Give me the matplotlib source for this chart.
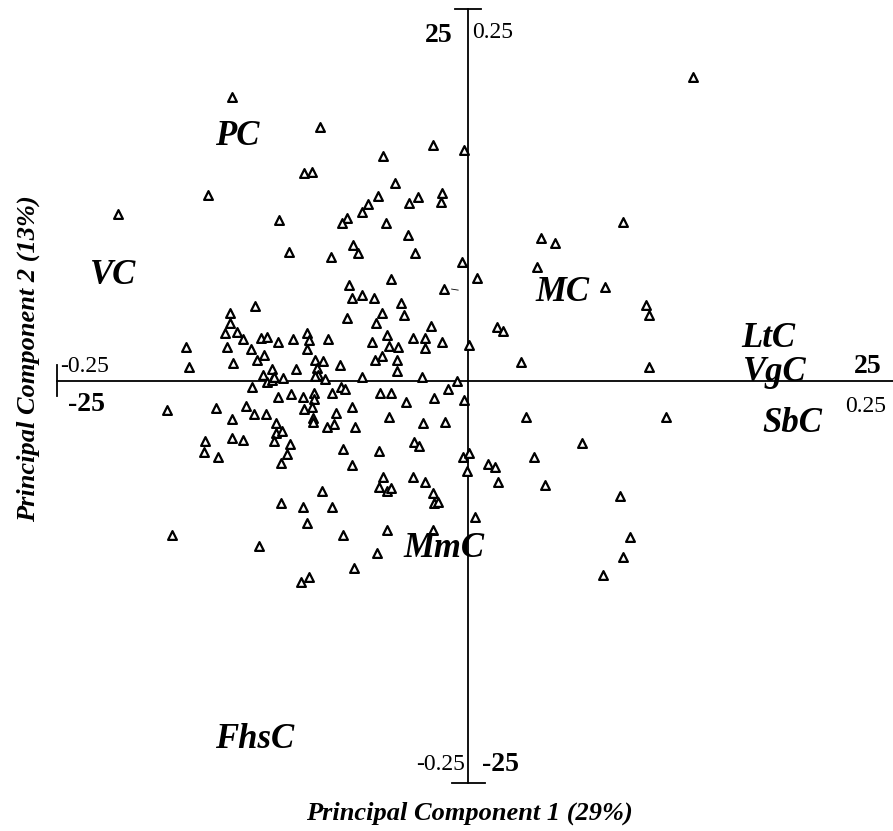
import numpy as np
from matplotlib import pyplot as plt

# PCA scores (PC1, PC2)
pc1 = [-14.36, -9.00, 13.69, -2.13, -0.24, -5.17, -9.98, -9.49, -4.44, -15.82,
       -1.58, -1.64, -5.47, -6.08, -6.45, -3.04, -3.59, -21.29, -11.50, -7.36,
       -7.66, -4.99, 9.43, -3.65, 4.44, 5.29, -7.00, -6.69, -10.89, -8.33,
       -3.22, -0.36, 4.20, 0.55, -4.68, 8.33, -7.24, -1.46, -7.06, -6.45,
       -5.72, 10.83, 11.01, -12.96, -4.08, -3.89, -14.48, -14.48, -5.23, -7.36,
       -5.60, -2.25, 1.76, 2.13, -14.78, -14.05, -13.69, -12.59, -12.23, -11.56,
       -10.64, -9.79, -9.67, -9.79, -8.52, -5.84, -4.93, -4.81, -4.26, -3.35,
       -2.62, -2.62, -1.58, 0.06, -17.15, -14.66, -13.20, -12.41, -12.83, -16.97,
       -14.29, -10.46, -9.31, -8.82, -9.18, -9.12, -9.31, -8.70, -11.92, -12.47,
       -12.23, -11.92, -11.80, -11.25, -7.79, -5.66, -5.23, -4.32, -4.32, -6.45,
       -2.80, -0.67, 3.22, 11.01,
       -13.14, -11.56, -10.77, -10.04, -9.37, -9.37, -9.49, -9.98, -9.43, -9.43,
       -18.31, -15.33, -13.50, -13.02, -12.29, -14.36, -11.68, -11.68, -11.31, -11.80,
       -14.36, -13.69, -16.00, -16.06, -10.83, -11.01, -15.21, -11.37, -7.73, -7.48,
       -8.27, -5.35, -4.68, -1.22, -3.77, -2.07, -0.24, -7.06, -8.03, -8.15,
       -8.58, -4.81, -6.87, -2.74, -1.40, -3.28, -2.98, -7.60, -5.41, -0.30,
       0.06, -0.06, -7.06, -5.17, -5.41, -4.93, -4.68, -3.35, -2.62, -2.13,
       -2.07, -1.82, -8.88, -11.37, -10.04, -8.27, -9.79, 0.43, -7.60, -4.93,
       -2.13, -18.00, -12.71, -5.54, -6.93, -10.16, -9.67,
       3.53, 12.04, 6.93, 1.22, 1.64, 1.82, 4.01, 4.68, 9.25, 9.85, 9.43, 8.21]
pc2 = [19.06, 17.05, 20.40, 15.84, 15.50, 15.10, 13.96, 14.03, 13.29, 12.48,
       12.62, 12.01, 12.42, 11.88, 11.34, 12.35, 11.95, 11.21, 10.81, 10.94,
       10.60, 10.60, 10.67, 9.80, 9.60, 9.26, 9.13, 8.59, 8.66, 8.32,
       8.59, 7.99, 7.65, 6.91, 6.85, 6.31, 6.44, 6.17, 5.57, 5.77,
       5.57, 5.10, 4.43, 5.03, 5.23, 4.43, 4.56, 3.89, 4.56, 4.23,
       3.89, 3.69, 3.62, 3.36, 3.22, 3.29, 2.82, 2.89, 2.95, 2.62,
       2.82, 3.22, 2.75, 2.15, 2.82, 2.62, 3.09, 2.35, 2.28, 2.89,
       2.89, 2.21, 2.62, 2.42, 2.28, 2.28, 2.15, 1.74, 1.41, 0.94,
       1.21, 0.81, 1.41, 1.34, 0.87, 0.40, 0.34, 0.13, 0.81, 0.40,
       -0.07, 0.07, 0.27, 0.20, 1.07, 1.41, 1.68, 1.41, 0.67, 0.27,
       0.27, 0.00, 1.28, 0.94,
       -0.40, -1.07, -0.87, -1.07, -0.81, -1.21, -1.74, -1.88, -2.48, -2.75,
       -1.95, -1.81, -1.68, -2.21, -2.21, -2.55, -2.82, -3.49, -3.36, -4.03,
       -3.83, -3.96, -4.03, -4.77, -4.23, -4.90, -5.10, -5.50, -0.40, -0.54,
       -0.81, -0.81, -0.81, -0.54, -1.41, -1.14, -1.28, -1.74, -2.15, -2.89,
       -3.09, -2.42, -3.09, -2.82, -2.75, -4.09, -4.36, -4.56, -4.70, -5.10,
       -4.83, -6.04, -5.64, -6.44, -7.11, -7.38, -7.18, -6.44, -6.78, -7.52,
       -8.19, -8.12, -7.38, -8.19, -8.46, -8.46, -9.53, -9.13, -10.34, -10.00,
       -10.00, -10.34, -11.07, -11.54, -12.55, -13.49, -13.15,
       -2.42, -2.42, -4.16, -5.57, -5.77, -6.78, -5.10, -6.98, -7.72, -10.47, -11.81, -13.02]

groups = ['PC', 'VC', 'MC', 'LtC', 'VgC', 'SbC', 'MmC', 'FhsC']
group_x = [-14.05, -21.59, 5.72, 18.25, 18.67, 19.71, -1.46, -12.96]
group_y = [16.38, 7.11, 5.97, 2.82, 0.60, -2.82, -11.21, -24.03]

serif = 'Liberation Serif'

fig = plt.figure(figsize=(8.93, 8.31), dpi=100)
ax = fig.add_axes([0, 0, 1, 1])
ax.set_xlim(-28.47, 25.85)
ax.set_ylim(-30.20, 25.57)
ax.axis('off')

# axes through the origin
ax.plot([-25, 25.85], [0, 0], color='black', lw=1.3)
ax.plot([0, 0], [-26.98, 24.97], color='black', lw=1.3)
ax.plot([-25, -25], [1.07, -1.0], color='black', lw=1.3)
ax.plot([-0.8, 0.8], [24.97, 24.97], color='black', lw=1.3)
ax.plot([-0.97, 1.03], [-26.98, -26.98], color='black', lw=1.3)

ax.scatter(pc1, pc2, marker='^', s=40, facecolors='white',
           edgecolors='black', linewidths=1.6, zorder=3)
# small stray tick next to one point
ax.plot([-1.0, -0.6], [6.17, 6.1], color='black', lw=0.6)

for g, gx, gy in zip(groups, group_x, group_y):
    ax.text(gx, gy, g, family=serif, fontsize=25, fontweight='bold',
            style='italic', ha='center', va='center')

# scale labels
ax.text(-0.91, 23.2, '25', family=serif, fontsize=20, fontweight='bold', ha='right', va='center')
ax.text(0.24, 23.36, '0.25', family=serif, fontsize=17, ha='left', va='center')
ax.text(24.33, 1.0, '25', family=serif, fontsize=20, fontweight='bold', ha='center', va='center')
ax.text(24.2, -1.68, '0.25', family=serif, fontsize=17, ha='center', va='center')
ax.text(-24.82, 1.0, '-0.25', family=serif, fontsize=17, ha='left', va='center')
ax.text(-23.2, -1.61, '-25', family=serif, fontsize=20, fontweight='bold', ha='center', va='center')
ax.text(-0.18, -25.77, '-0.25', family=serif, fontsize=17, ha='right', va='center')
ax.text(0.85, -25.77, '-25', family=serif, fontsize=20, fontweight='bold', ha='left', va='center')

ax.text(0.1, -29.0, 'Principal Component 1 (29%)', family=serif, fontsize=19,
        fontweight='bold', style='italic', ha='center', va='center')
ax.text(-26.75, 1.5, 'Principal Component 2 (13%)', family=serif, fontsize=19,
        fontweight='bold', style='italic', ha='center', va='center', rotation=90)

plt.savefig('out.png', dpi=100)
